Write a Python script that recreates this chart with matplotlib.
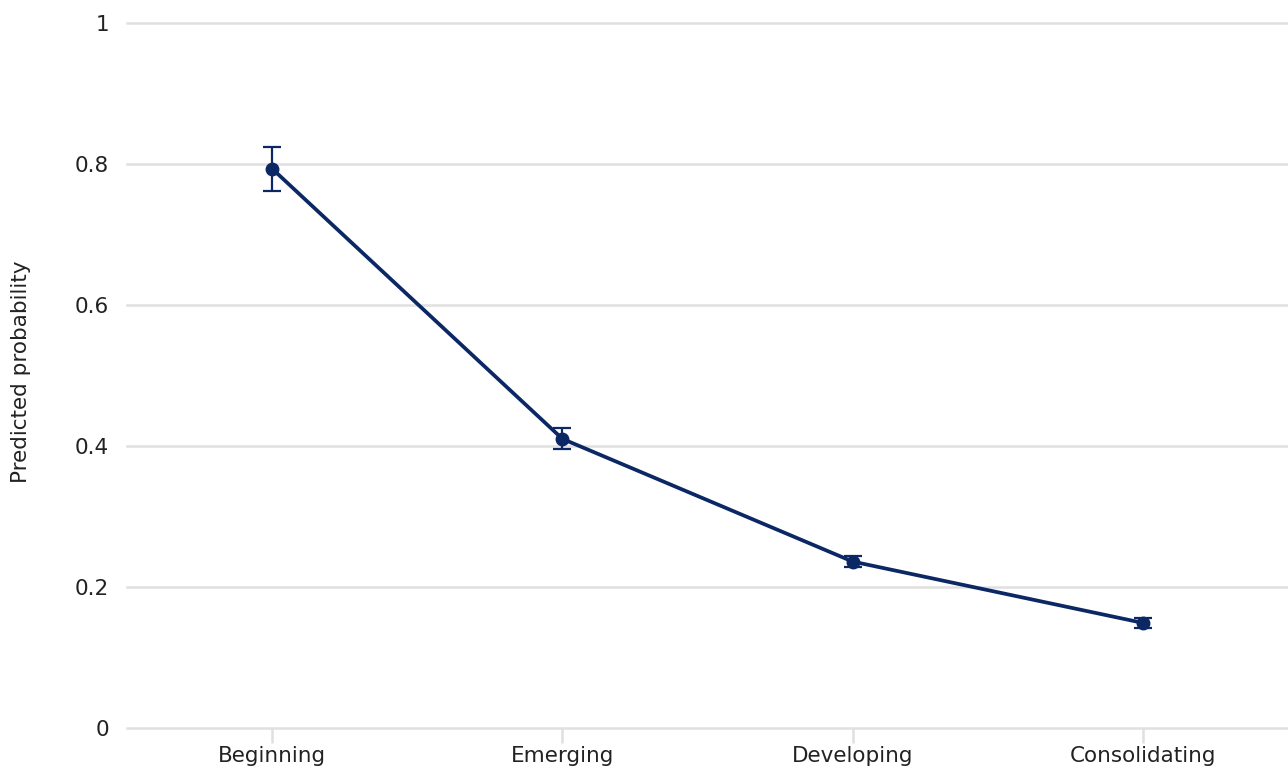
import matplotlib.pyplot as plt

stages = ["Beginning", "Emerging", "Developing", "Consolidating"]
prob = [0.793, 0.410, 0.236, 0.149]
err = [0.031, 0.015, 0.008, 0.007]

navy = "#0b2865"
grid = "#e0e0e0"
txt = "#222222"

plt.rcParams["font.family"] = ["DejaVu Sans"]

fig = plt.figure(figsize=(12.88, 7.67), dpi=100)
ax = fig.add_axes([127 / 1288, 1 - 728 / 767, 1 - 127 / 1288, 705.3 / 767])

x = range(len(stages))
ax.errorbar(x, prob, yerr=err, color=navy, lw=2.7, marker="o", ms=9,
            capsize=6.5, capthick=1.6, elinewidth=1.6, zorder=3)

ax.set_xlim(-0.5, 3.5)
ax.set_ylim(0, 1)
ax.set_yticks([0, 0.2, 0.4, 0.6, 0.8, 1])
ax.set_yticklabels(["0", "0.2", "0.4", "0.6", "0.8", "1"])
ax.set_xticks(list(x))
ax.set_xticklabels(stages)

ax.grid(axis="y", color=grid, lw=1.8)
ax.set_axisbelow(True)
# keep the edge gridlines at full width
for gl in ax.get_ygridlines():
    gl.set_clip_on(False)
for s in ax.spines.values():
    s.set_visible(False)

ax.tick_params(axis="y", length=0, pad=13, labelsize=15.5, labelcolor=txt)
ax.tick_params(axis="x", length=11, width=1.8, color=grid, pad=2,
               labelsize=15.5, labelcolor=txt)
ax.set_ylabel("Predicted probability", fontsize=15.5, color=txt)
ax.yaxis.set_label_coords(-0.083, 0.505)

fig.savefig("out.png", dpi=100)
